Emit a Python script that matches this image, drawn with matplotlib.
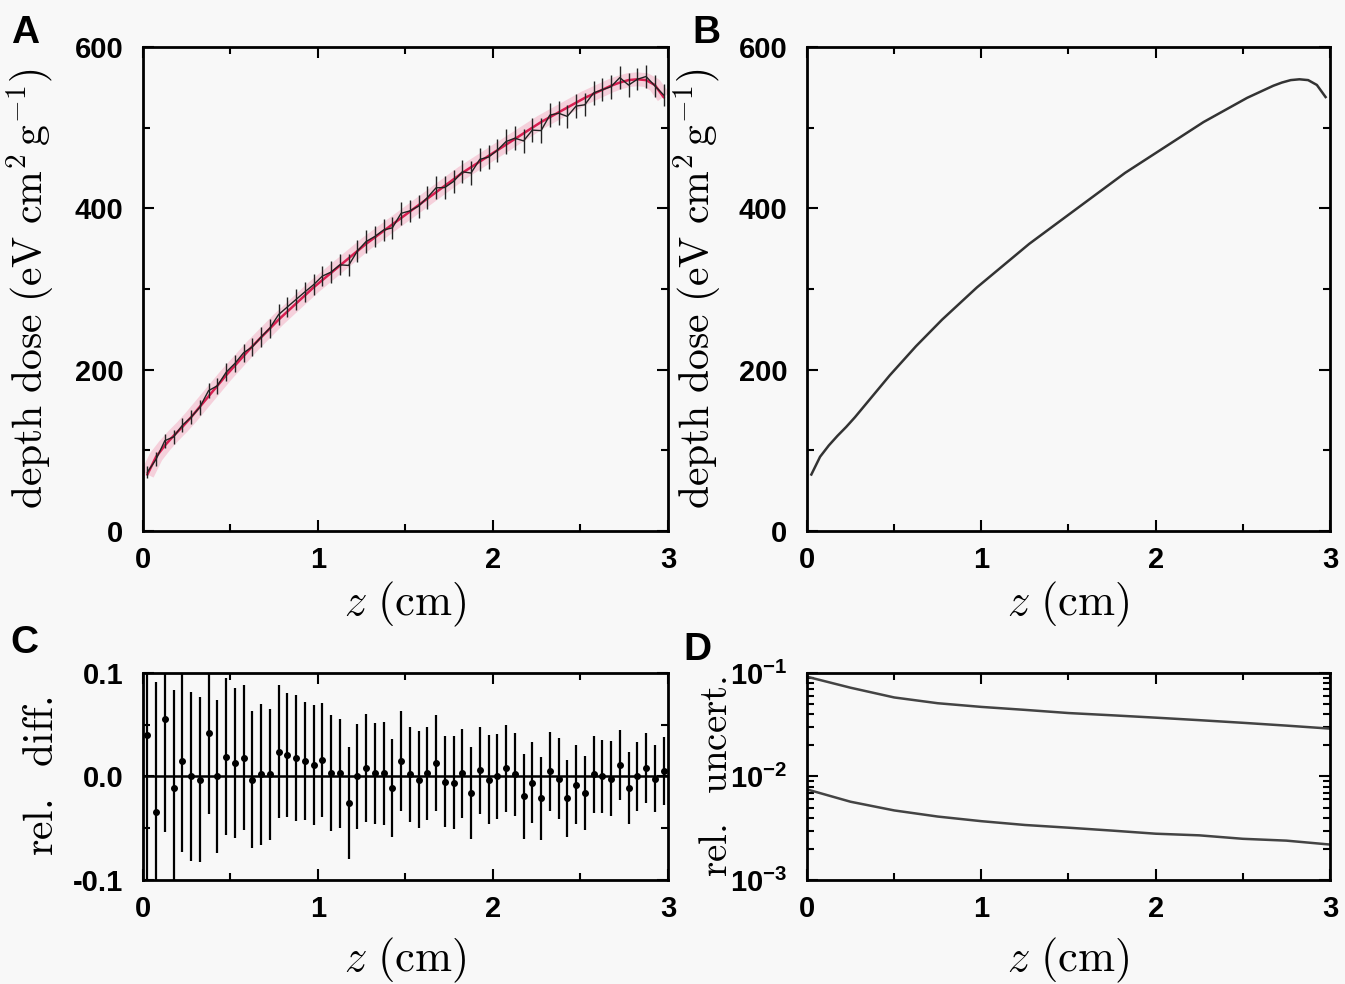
import matplotlib
matplotlib.use("Agg")
import matplotlib.pyplot as plt
from matplotlib.ticker import MultipleLocator, LogLocator, NullFormatter
import numpy as np

plt.rcParams['font.family'] = ['Liberation Sans', 'DejaVu Sans']
plt.rcParams['mathtext.fontset'] = 'cm'

# bin centres (cm)
z_bins = [0.025, 0.075, 0.125, 0.175, 0.225, 0.275, 0.325, 0.375, 0.425, 0.475,
          0.525, 0.575, 0.625, 0.675, 0.725, 0.775, 0.825, 0.875, 0.925, 0.975,
          1.025, 1.075, 1.125, 1.175, 1.225, 1.275, 1.325, 1.375, 1.425, 1.475,
          1.525, 1.575, 1.625, 1.675, 1.725, 1.775, 1.825, 1.875, 1.925, 1.975,
          2.025, 2.075, 2.125, 2.175, 2.225, 2.275, 2.325, 2.375, 2.425, 2.475,
          2.525, 2.575, 2.625, 2.675, 2.725, 2.775, 2.825, 2.875, 2.925, 2.975]

# reference depth dose (eV cm^2 g^-1)
dose_ref = [70, 92, 106, 118, 129, 141, 154, 167, 180, 193,
            205, 217, 229, 240, 251, 262, 272, 282, 292, 302,
            311, 320, 329, 338, 347, 356, 364, 372, 380, 388,
            396, 404, 412, 420, 428, 436, 444, 451, 458, 465,
            472, 479, 486, 493, 500, 507, 513, 519, 525, 531,
            537, 542, 547, 552, 556, 559, 560, 559, 553, 538]

# relative difference and its error bars
rel_diff = [0.040, -0.034, 0.056, -0.011, 0.015, 0.000, -0.003, 0.042, 0.000, 0.019,
            0.013, 0.018, -0.003, 0.002, 0.002, 0.024, 0.021, 0.018, 0.015, 0.011,
            0.016, 0.003, 0.003, -0.026, 0.000, 0.008, 0.003, 0.003, -0.011, 0.015,
            0.002, -0.003, 0.003, 0.013, -0.005, -0.006, 0.003, -0.016, 0.006, -0.003,
            0.000, 0.008, 0.002, -0.019, -0.006, -0.021, 0.005, -0.002, -0.021, -0.008,
            -0.016, 0.002, 0.000, -0.002, 0.011, -0.011, 0.000, 0.008, -0.002, 0.005]
rel_err = [0.140, 0.125, 0.110, 0.095, 0.088, 0.082, 0.080, 0.078, 0.074, 0.076,
           0.072, 0.070, 0.066, 0.068, 0.063, 0.064, 0.060, 0.061, 0.057, 0.058,
           0.055, 0.056, 0.053, 0.054, 0.051, 0.052, 0.049, 0.050, 0.047, 0.048,
           0.046, 0.047, 0.045, 0.046, 0.044, 0.045, 0.043, 0.044, 0.042, 0.043,
           0.041, 0.042, 0.040, 0.041, 0.039, 0.040, 0.038, 0.039, 0.037, 0.038,
           0.036, 0.037, 0.035, 0.036, 0.034, 0.035, 0.033, 0.034, 0.032, 0.033]

# relative uncertainties
z_unc = [0.0, 0.25, 0.5, 0.75, 1.0, 1.25, 1.5, 1.75, 2.0, 2.25, 2.5, 2.75, 3.0]
unc_mc = [0.092, 0.072, 0.058, 0.051, 0.047, 0.044, 0.041, 0.039, 0.037, 0.035, 0.033, 0.031, 0.029]
unc_ref = [0.0075, 0.0057, 0.0047, 0.0041, 0.0037, 0.0034, 0.0032, 0.0030, 0.0028, 0.0027,
           0.0025, 0.0024, 0.0022]

bg = '#f8f8f8'
z = np.array(z_bins)
ref = np.array(dose_ref)
mc = ref * (1 + np.array(rel_diff))
mc_err = ref * np.array(rel_err) * 0.75

fig = plt.figure(figsize=(13.45, 9.84), dpi=100, facecolor=bg)
axA = fig.add_axes([0.1063, 0.4604, 0.3903, 0.4918])
axB = fig.add_axes([0.6000, 0.4604, 0.3888, 0.4918])
axC = fig.add_axes([0.1063, 0.1057, 0.3903, 0.2104])
axD = fig.add_axes([0.6000, 0.1057, 0.3888, 0.2104])

ylab = r'$\mathrm{depth\ dose\ (eV\ cm^2\,g^{-1})}$'
xlab = r'$z\ \mathrm{(cm)}$'


def style(ax):
    ax.set_facecolor(bg)
    for s in ax.spines.values():
        s.set_linewidth(2)
    ax.set_xlim(0, 3)
    ax.xaxis.set_major_locator(MultipleLocator(1))
    ax.xaxis.set_minor_locator(MultipleLocator(0.5))
    ax.tick_params(which='both', direction='in', top=True, right=True, width=1.5)
    ax.tick_params(which='major', length=8)
    ax.tick_params(which='minor', length=5)
    ax.tick_params(axis='x', pad=11, labelsize=21)
    ax.tick_params(axis='y', pad=14, labelsize=21)
    for lab in ax.get_xticklabels() + ax.get_yticklabels():
        lab.set_fontweight('bold')


# A
axA.plot(z, ref, color='#f2a0b8', lw=10, alpha=0.45, solid_capstyle='butt')
axA.plot(z, ref, color='#d81e50', lw=1.8)
axA.errorbar(z, mc, yerr=mc_err, fmt='-', color='#222222', lw=1.0, elinewidth=1.0, capsize=0)
axA.set_ylim(0, 600)
axA.yaxis.set_major_locator(MultipleLocator(200))
axA.yaxis.set_minor_locator(MultipleLocator(100))
style(axA)
axA.set_ylabel(ylab, fontsize=30)
axA.set_xlabel(xlab, fontsize=32)

# B
axB.plot(z, ref, color='#333333', lw=1.8)
axB.set_ylim(0, 600)
axB.yaxis.set_major_locator(MultipleLocator(200))
axB.yaxis.set_minor_locator(MultipleLocator(100))
style(axB)
axB.set_ylabel(ylab, fontsize=30)
axB.set_xlabel(xlab, fontsize=32)

# C
axC.axhline(0, color='black', lw=1.8)
axC.errorbar(z, rel_diff, yerr=rel_err, fmt='o', ms=4, color='black', elinewidth=1.6, capsize=0)
axC.set_ylim(-0.1, 0.1)
axC.yaxis.set_major_locator(MultipleLocator(0.1))
axC.yaxis.set_minor_locator(MultipleLocator(0.05))
axC.yaxis.set_major_formatter(plt.FuncFormatter(lambda v, p: f'{v:.1f}'))
style(axC)
axC.set_ylabel(r'$\mathrm{rel.\ \ diff.}$', fontsize=30)
axC.set_xlabel(xlab, fontsize=32)

# D
axD.plot(z_unc, unc_mc, color='#444444', lw=1.8)
axD.plot(z_unc, unc_ref, color='#444444', lw=1.8)
axD.set_yscale('log')
axD.set_ylim(1e-3, 1e-1)
axD.yaxis.set_major_locator(LogLocator(base=10, numticks=5))
axD.yaxis.set_minor_locator(LogLocator(base=10, subs=np.arange(2, 10), numticks=20))
axD.yaxis.set_minor_formatter(NullFormatter())
style(axD)
axD.set_ylabel(r'$\mathrm{rel.\ \ uncert.}$', fontsize=28)
axD.set_xlabel(xlab, fontsize=32)

axA.yaxis.set_label_coords(-0.165, 0.5)
axB.yaxis.set_label_coords(-0.16, 0.5)
axC.yaxis.set_label_coords(-0.155, 0.5)
axD.yaxis.set_label_coords(-0.138, 0.5)
for ax in (axA, axB):
    ax.xaxis.set_label_coords(0.5, -0.100)
for ax in (axC, axD):
    ax.xaxis.set_label_coords(0.5, -0.27)

for letter, x, y in [('A', 0.008, 0.985), ('B', 0.515, 0.985), ('C', 0.008, 0.365), ('D', 0.508, 0.358)]:
    fig.text(x, y, letter, fontsize=28, fontweight='bold', va='top', ha='left')

fig.savefig('out.png', dpi=100, facecolor=bg)
